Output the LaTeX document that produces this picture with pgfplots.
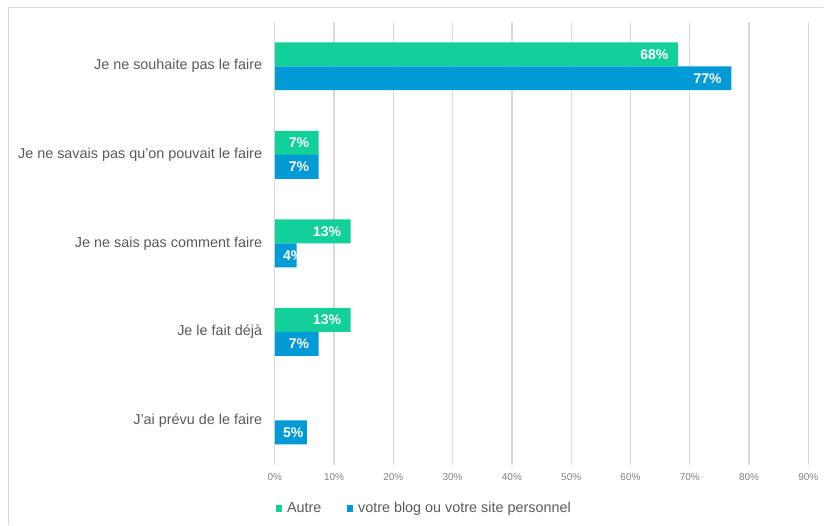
\documentclass[border=0pt]{standalone}
\usepackage{fontspec}
\setmainfont{Liberation Sans}
\usepackage{pgfplots}
\pgfplotsset{compat=1.18}
\definecolor{cgreen}{RGB}{19,208,154}
\definecolor{cblue}{RGB}{0,155,215}
\definecolor{ctxt}{RGB}{89,89,89}
\definecolor{ctick}{RGB}{128,128,128}
\definecolor{cgrid}{RGB}{217,217,217}
\begin{document}
\begin{tikzpicture}
\path (0,0) rectangle (618pt,393.75pt);
\draw[cgrid, line width=1pt] (6.5pt,0) -- (6.5pt,388pt) -- (618pt,388pt);
\begin{axis}[
  at={(206.25pt,45pt)}, anchor=south west,
  scale only axis, width=400.5pt, height=332.25pt,
  xmin=0, xmax=90, ymin=-0.5, ymax=4.5,
  xbar, bar width=18pt,
  axis line style={draw=none},
  major tick length=0pt,
  xmajorgrids, major grid style={cgrid, line width=0.9pt},
  xtick={0,10,...,90},
  xticklabel={\pgfmathprintnumber{\tick}\%},
  /pgf/number format/assume math mode=true,
  xticklabel style={font=\fontsize{7.5}{9}\selectfont, text=ctick, yshift=-3pt},
  ytick={0,1,2,3,4},
  yticklabels={J'ai prévu de le faire, Je le fait déjà, Je ne sais pas comment faire, Je ne savais pas qu'on pouvait le faire, Je ne souhaite pas le faire},
  yticklabel style={font=\fontsize{10.8}{13}\selectfont, text=ctxt, xshift=-6pt},
  point meta=explicit symbolic,
  nodes near coords style={text=white, font=\fontsize{10.5}{12}\selectfont\bfseries, inner xsep=2pt},
  legend style={at={(rel axis cs:0,0)}, anchor=west, yshift=-33pt, xshift=-2.5pt, draw=none, fill=none, font=\fontsize{10.8}{13}\selectfont, text=ctxt, legend columns=2, /tikz/every even column/.append style={column sep=17pt}},
  legend image code/.code={\fill[#1] (0pt,-2.6pt) rectangle (4.5pt,2.6pt); \path (6.5pt,0pt);},
]
% Autre
\addplot[fill=cgreen, draw=none, bar shift=9pt,
  nodes near coords={\pgfplotspointmeta\%},
  nodes near coords style={anchor=east, xshift=-5pt}]
  coordinates {(68,4) [68] (7.4,3) [7] (12.8,2) [13] (12.8,1) [13]};
\addlegendentry{Autre}
% votre blog ou votre site personnel
\addplot[fill=cblue, draw=none, bar shift=-9pt,
  nodes near coords={\pgfplotspointmeta\%},
  nodes near coords style={anchor=east, xshift=-5pt}]
  coordinates {(77,4) [77] (7.4,3) [7] (7.4,1) [7]};
\addlegendentry{votre blog ou votre site personnel}
\addplot[fill=cblue, draw=none, bar shift=-9pt, forget plot]
  coordinates {(3.7,2) [4] (5.4,0) [5]};
% labels of the short bars, set from the bar start
\addplot[draw=none, fill=none, bar shift=-9pt, forget plot,
  nodes near coords={\pgfplotspointmeta\%},
  nodes near coords style={anchor=west, xshift=4pt}]
  coordinates {(0,2) [4] (0,0) [5]};
\end{axis}
\end{tikzpicture}
\end{document}
